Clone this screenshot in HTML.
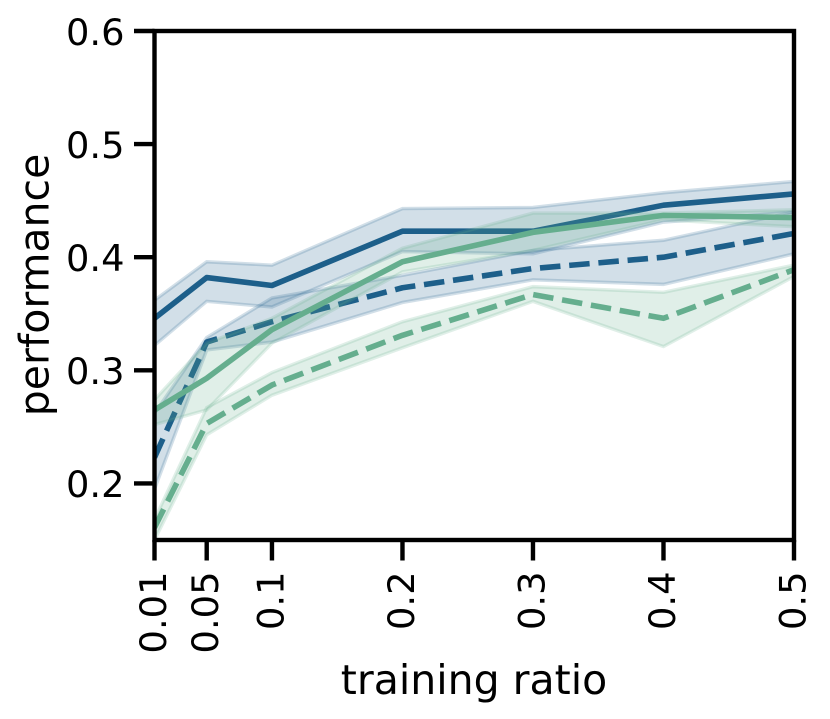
<!DOCTYPE html>
<html>
<head>
<meta charset="utf-8">
<style>
html,body{margin:0;padding:0;background:#fff;width:830px;height:719px;overflow:hidden}
svg{display:block}
text{font-family:"DejaVu Sans","Liberation Sans",sans-serif;fill:#000}
</style>
</head>
<body>
<svg id="chart" xmlns="http://www.w3.org/2000/svg" width="830" height="719" viewBox="0 0 830 719">
<defs><clipPath id="plot-clip"><rect x="154.5" y="31" width="639.5" height="509"/></clipPath></defs>
<g id="marks" clip-path="url(#plot-clip)"></g>
<g id="frame"></g>
<text transform="translate(48.5,285) rotate(-90)" text-anchor="middle" font-size="41">performance</text>
<text x="474" y="694" text-anchor="middle" font-size="41">training ratio</text>
</svg>
<script>
const ratios = [0.01, 0.05, 0.1, 0.2, 0.3, 0.4, 0.5];
const xTickLabels = ['0.01', '0.05', '0.1', '0.2', '0.3', '0.4', '0.5'];
const yTicks = [0.2, 0.3, 0.4, 0.5, 0.6];
const yTickLabels = ['0.2', '0.3', '0.4', '0.5', '0.6'];

const solidBlueMean = [0.346, 0.382, 0.375, 0.423, 0.423, 0.446, 0.456];
const solidBlueUpper = [0.362, 0.396, 0.393, 0.443, 0.444, 0.457, 0.467];
const solidBlueLower = [0.322, 0.361, 0.356, 0.405, 0.403, 0.431, 0.440];

const dashedBlueMean = [0.223, 0.325, 0.343, 0.373, 0.390, 0.400, 0.421];
const dashedBlueUpper = [0.262, 0.329, 0.364, 0.384, 0.406, 0.415, 0.440];
const dashedBlueLower = [0.195, 0.318, 0.325, 0.360, 0.380, 0.376, 0.403];

const solidGreenMean = [0.265, 0.293, 0.336, 0.396, 0.422, 0.437, 0.435];
const solidGreenUpper = [0.274, 0.324, 0.346, 0.408, 0.439, 0.439, 0.442];
const solidGreenLower = [0.252, 0.265, 0.324, 0.387, 0.406, 0.433, 0.427];

const dashedGreenMean = [0.161, 0.253, 0.287, 0.331, 0.367, 0.346, 0.389];
const dashedGreenUpper = [0.168, 0.267, 0.298, 0.343, 0.374, 0.369, 0.393];
const dashedGreenLower = [0.150, 0.243, 0.278, 0.320, 0.361, 0.321, 0.383];

const NS = 'http://www.w3.org/2000/svg';
const BLUE = '#1d5f8a';
const GREEN = '#65ae8e';
const PLOT = {left: 154.5, right: 794, top: 31, bottom: 540};
const X_MIN = 0.01, X_MAX = 0.5, Y_MIN = 0.15, Y_MAX = 0.6;

function xScale(v) {
  return PLOT.left + (v - X_MIN) / (X_MAX - X_MIN) * (PLOT.right - PLOT.left);
}
function yScale(v) {
  return PLOT.bottom - (v - Y_MIN) / (Y_MAX - Y_MIN) * (PLOT.bottom - PLOT.top);
}
function make(tag, attrs, parent) {
  const el = document.createElementNS(NS, tag);
  for (const k in attrs) el.setAttribute(k, attrs[k]);
  parent.appendChild(el);
  return el;
}
function linePoints(values) {
  return values.map((v, i) => xScale(ratios[i]) + ',' + yScale(v)).join(' ');
}
function bandPoints(upper, lower) {
  const top = upper.map((v, i) => xScale(ratios[i]) + ',' + yScale(v));
  const bot = lower.map((v, i) => xScale(ratios[i]) + ',' + yScale(v)).reverse();
  return top.concat(bot).join(' ');
}

const marks = document.getElementById('marks');
const frame = document.getElementById('frame');

function drawBand(upper, lower, color, name) {
  const band = make('polygon', {
    points: bandPoints(upper, lower),
    fill: color, 'fill-opacity': 0.2,
    stroke: color, 'stroke-opacity': 0.2, 'stroke-width': 3.4,
    'stroke-linejoin': 'miter'
  }, marks);
  
  
}
function drawLine(values, color, dashed, name) {
  const line = make('polyline', {
    points: linePoints(values),
    fill: 'none', stroke: color, 'stroke-width': 5.6,
    'stroke-linejoin': 'round', 'stroke-linecap': 'butt'
  }, marks);
  if (dashed) line.setAttribute('stroke-dasharray', '20.5 8.8');
  
  
}

drawBand(solidBlueUpper, solidBlueLower, BLUE, 'solid-blue-band');
drawLine(solidBlueMean, BLUE, false, 'solid-blue-line');
drawBand(dashedBlueUpper, dashedBlueLower, BLUE, 'dashed-blue-band');
drawLine(dashedBlueMean, BLUE, true, 'dashed-blue-line');
drawBand(solidGreenUpper, solidGreenLower, GREEN, 'solid-green-band');
drawLine(solidGreenMean, GREEN, false, 'solid-green-line');
drawBand(dashedGreenUpper, dashedGreenLower, GREEN, 'dashed-green-band');
drawLine(dashedGreenMean, GREEN, true, 'dashed-green-line');

const spine = make('rect', {
  x: PLOT.left, y: PLOT.top,
  width: PLOT.right - PLOT.left, height: PLOT.bottom - PLOT.top,
  fill: 'none', stroke: '#000', 'stroke-width': 4.4
}, frame);



yTicks.forEach((v, i) => {
  const y = yScale(v);
  const tick = make('line', {x1: 134, x2: PLOT.left, y1: y, y2: y, stroke: '#000', 'stroke-width': 4.4}, frame);
  
  
  const label = make('text', {x: 124.5, y: y + 13.8, 'text-anchor': 'end', 'font-size': 36.8}, frame);
  label.textContent = yTickLabels[i];
  
  
});

ratios.forEach((v, i) => {
  const x = xScale(v);
  const tick = make('line', {x1: x, x2: x, y1: PLOT.bottom, y2: 560.5, stroke: '#000', 'stroke-width': 4.4}, frame);
  
  
  const label = make('text', {
    transform: 'translate(' + (x + 11.5) + ',571.5) rotate(-90)',
    'text-anchor': 'end', 'font-size': 36.8
  }, frame);
  label.textContent = xTickLabels[i];
  
  
});
</script>
</body>
</html>
